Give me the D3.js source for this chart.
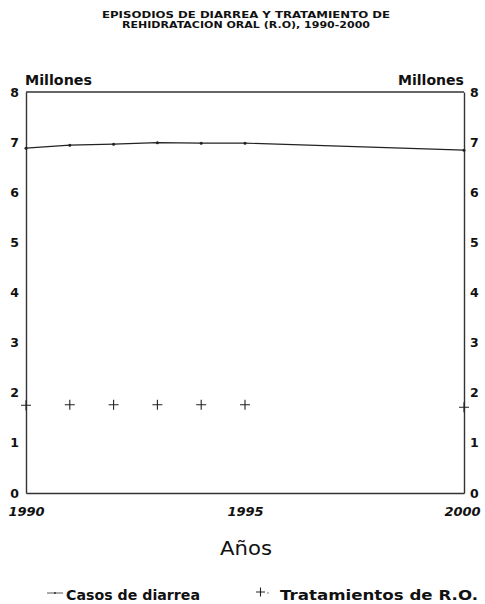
<!DOCTYPE html>
<html>
<head>
<meta charset="utf-8">
<script src="https://cdn.jsdelivr.net/npm/d3@7"></script>
<style>
  body { margin: 0; background: #fff; }
  text { font-family: "DejaVu Sans", "Liberation Sans", Arial, sans-serif; fill: #111; }
</style>
</head>
<body>
<div id="chart"></div>
<script>
// data
var diarreaYears = [1990, 1991, 1992, 1993, 1994, 1995, 2000];
var diarreaValues = [6.88, 6.94, 6.96, 6.99, 6.98, 6.98, 6.84];
var roYears = [1990, 1991, 1992, 1993, 1994, 1995, 2000];
var roValues = [1.75, 1.76, 1.76, 1.76, 1.76, 1.76, 1.71];
var yTicks = [0, 1, 2, 3, 4, 5, 6, 7, 8];
var xTicks = [1990, 1995, 2000];

var width = 485, height = 604;
var margin = {top: 92, right: 21, bottom: 111, left: 26};
var w = width - margin.left - margin.right;
var h = height - margin.top - margin.bottom;

var svg = d3.select('#chart').append('svg')
    .attr('width', width)
    .attr('height', height);

var x = d3.scaleLinear().domain([1990, 2000]).range([0, w]);
var y = d3.scaleLinear().domain([0, 8]).range([h, 0]);

var g = svg.append('g')
    .attr('transform', 'translate(' + margin.left + ',' + margin.top + ')');

// title (wide, heavy lettering)
svg.append('text').attr('x', 246).attr('y', 18)
    .attr('text-anchor', 'middle').attr('font-size', 9).attr('font-weight', 'bold')
    .attr('textLength', 288).attr('lengthAdjust', 'spacingAndGlyphs')
    .text('EPISODIOS DE DIARREA Y TRATAMIENTO DE');
svg.append('text').attr('x', 246).attr('y', 28)
    .attr('text-anchor', 'middle').attr('font-size', 9).attr('font-weight', 'bold')
    .attr('textLength', 248).attr('lengthAdjust', 'spacingAndGlyphs')
    .text('REHIDRATACION ORAL (R.O), 1990-2000');

// axes, no tick marks
var left = g.append('g').call(d3.axisLeft(y).tickValues(yTicks).tickSize(0).tickPadding(7));
var right = g.append('g').attr('transform', 'translate(' + w + ',0)')
    .call(d3.axisRight(y).tickValues(yTicks).tickSize(0).tickPadding(6));
[left, right].forEach(function (a) {
    a.select('.domain').attr('stroke', '#333').attr('stroke-width', 1.4);
    a.selectAll('text').attr('font-size', 12.5).attr('font-weight', 'bold')
        .attr('font-family', '"DejaVu Sans", sans-serif').attr('fill', '#111');
});

var bottom = g.append('g').attr('transform', 'translate(0,' + h + ')')
    .call(d3.axisBottom(x).tickValues(xTicks).tickFormat(d3.format('d')).tickSize(0).tickPadding(14));
bottom.select('.domain').attr('stroke', '#333').attr('stroke-width', 1.4);
bottom.selectAll('text').attr('font-size', 13).attr('font-weight', 'bold').attr('font-style', 'italic')
    .attr('font-family', '"DejaVu Sans", sans-serif').attr('fill', '#111');
// last year label sits a little left so it stays inside the page
bottom.selectAll('.tick').filter(function (d) { return d === 2000; })
    .select('text').attr('dx', -2);

g.append('line').attr('x1', 0).attr('x2', w).attr('y1', 0).attr('y2', 0)
    .attr('stroke', '#333').attr('stroke-width', 1.4);

// "Millones" labels
svg.append('text').attr('x', 25).attr('y', 85)
    .attr('font-size', 13.5).attr('font-weight', 'bold')
    .attr('textLength', 67).attr('lengthAdjust', 'spacingAndGlyphs').text('Millones');
svg.append('text').attr('x', 398).attr('y', 85)
    .attr('font-size', 13.5).attr('font-weight', 'bold')
    .attr('textLength', 66).attr('lengthAdjust', 'spacingAndGlyphs').text('Millones');

// axis title
svg.append('text').attr('x', 220).attr('y', 555)
    .attr('font-size', 19).attr('font-family', '"Liberation Sans", Arial, sans-serif')
    .attr('textLength', 52).attr('lengthAdjust', 'spacingAndGlyphs').text('Años');

// diarrhea series
var line = d3.line()
    .x(function (d, i) { return x(diarreaYears[i]); })
    .y(function (d) { return y(d); });
g.append('path').datum(diarreaValues)
    .attr('d', line).attr('fill', 'none').attr('stroke', '#222').attr('stroke-width', 1.2);
g.selectAll('.dot').data(diarreaValues).enter().append('circle')
    .attr('cx', function (d, i) { return x(diarreaYears[i]); })
    .attr('cy', function (d) { return y(d); })
    .attr('r', 1.5).attr('fill', '#222');

// rehydration series: plus markers
var s = 5;
g.selectAll('.plus').data(roValues).enter().append('path')
    .attr('d', function (d, i) {
        var cx = x(roYears[i]), cy = y(d);
        return 'M' + (cx - s) + ',' + cy + 'H' + (cx + s) + 'M' + cx + ',' + (cy - s) + 'V' + (cy + s);
    })
    .attr('stroke', '#222').attr('stroke-width', 1.1).attr('fill', 'none');

// legend
var lg = svg.append('g');
lg.append('line').attr('x1', 47).attr('x2', 63).attr('y1', 593).attr('y2', 593)
    .attr('stroke', '#555').attr('stroke-width', 1);
lg.append('circle').attr('cx', 55).attr('cy', 593).attr('r', 1).attr('fill', '#333');
lg.append('text').attr('x', 66).attr('y', 600).attr('font-size', 14).attr('font-weight', 'bold')
    .attr('textLength', 134).attr('lengthAdjust', 'spacingAndGlyphs').text('Casos de diarrea');
lg.append('path').attr('d', 'M256,592H265M260.5,587.5V596.5').attr('stroke', '#222').attr('stroke-width', 1.1);
lg.append('circle').attr('cx', 268).attr('cy', 593).attr('r', 0.7).attr('fill', '#555');
lg.append('text').attr('x', 280).attr('y', 600).attr('font-size', 14).attr('font-weight', 'bold')
    .attr('textLength', 198).attr('lengthAdjust', 'spacingAndGlyphs').text('Tratamientos de R.O.');
</script>
</body>
</html>
